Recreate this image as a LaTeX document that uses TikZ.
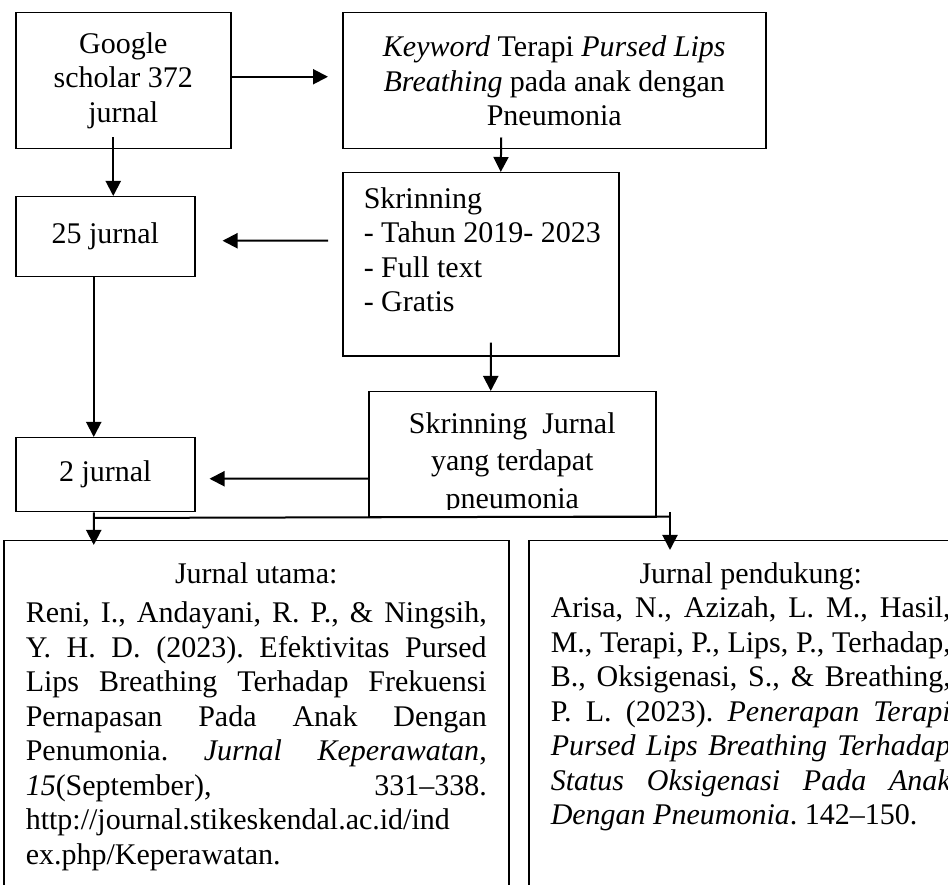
\documentclass[tikz,border=0pt]{standalone}
\usepackage{fontspec}
\setmainfont{Liberation Serif}
\usetikzlibrary{arrows.meta,calc}
\tikzset{box/.style = {draw, semithick, rectangle, inner sep=0pt, anchor=north west, align=center},
         >={Triangle[length=6pt,width=6pt]}}
\begin{document}
\begin{tikzpicture}[x=0.4pt,y=-0.4pt,font=\fontsize{12}{13.8}\selectfont]
        \useasboundingbox (0,0) rectangle (948,885);
        \clip (0,0) rectangle (948,885);

        \node[box, minimum width=86pt, minimum height=54.4pt] (google) at (15,12) {Google\\scholar 372\\jurnal};
        \node[box, minimum width=169.2pt, minimum height=54.4pt] (keyword) at (342,12) {\textit{Keyword} Terapi \textit{Pursed Lips}\\\textit{Breathing} pada anak dengan\\Pneumonia};
        \node[box, inner xsep=8.4pt, inner ysep=5.8pt] (skrin) at (342,172) {\parbox[t][61.6pt][t]{93.6pt}{Skrinning\\\mbox{- Tahun 2019- 2023}\\- Full text\\- Gratis}};
        \node[box, minimum width=71.6pt, minimum height=32pt] (jurnal25) at (15,196) {25 jurnal};
        \node[box, minimum width=114.8pt, minimum height=50pt] (skrinjurnal) at (368,391) {};
        \node[box, minimum width=71.6pt, minimum height=29.6pt] (jurnal2) at (15,437) {2 jurnal};
        \begin{scope}
            \clip (skrinjurnal.north west) rectangle ($(skrinjurnal.south east)+(0,-8)$);
            \node[inner sep=0pt, anchor=north, align=center, font=\fontsize{12}{15}\selectfont] (skrinjurnaltxt) at ($(skrinjurnal.north)+(0,21)$) {Skrinning\ \ Jurnal\\yang terdapat\\pneumonia};
        \end{scope}

        \node[box, inner xsep=8.8pt, inner ysep=8.6pt] (utama) at (3,540) {\parbox[t][150pt][t]{184.4pt}{%
            {\centering Jurnal utama:\par}\vspace{2pt}%
            \hyphenpenalty=10000 \frenchspacing
            Reni, I., Andayani, R. P., \& Ningsih,\linebreak
            Y. H. D. (2023). Efektivitas Pursed\linebreak
            Lips Breathing Terhadap Frekuensi\linebreak
            Pernapasan Pada Anak Dengan\linebreak
            Penumonia. \textit{Jurnal Keperawatan},\linebreak
            \textit{15}(September), 331--338.\linebreak
            http://journal.stikeskendal.ac.id/ind\linebreak
            ex.php/Keperawatan.}};
        \node[box, inner xsep=8.8pt, inner ysep=8.6pt] (pendukung) at (528,540) {\parbox[t][150pt][t]{160pt}{%
            {\centering Jurnal pendukung:\par}%
            \hyphenpenalty=10000 \frenchspacing
            Arisa, N., Azizah, L. M., Hasil,\linebreak
            M., Terapi, P., Lips, P., Terhadap,\linebreak
            B., Oksigenasi, S., \& Breathing,\linebreak
            P. L. (2023). \textit{Penerapan Terapi\linebreak
            Pursed Lips Breathing Terhadap\linebreak
            Status Oksigenasi Pada Anak\linebreak
            Dengan Pneumonia}. 142--150.}};

        \draw[->, thick] ($(google.east)+(0,-4)$) -- ($(keyword.west)+(-14,-4)$);
        \draw[->, thick] ($(google.south)+(-10,-12)$) -- ($(google.south |- jurnal25.north)+(-10,0)$);
        \draw[->, thick] ($(keyword.south)+(-53,-12)$) -- ($(skrin.north)+(20,0)$);
        \draw[->, thick] ($(skrin.west)+(-14,-23.5)$) -- ($(jurnal25.east)+(27,4)$);
        \draw[->, thick] ($(jurnal25.south)+(-11.5,0)$) -- ($(jurnal2.north)+(-11.5,0)$);
        \draw[->, thick] ($(skrin.south)+(10,-14)$) -- ($(skrinjurnal.north)+(-21.5,0)$);
        \draw[->, thick] ($(skrinjurnal.west)+(0,24.5)$) -- ($(jurnal2.east)+(14,4)$);
        \draw[->, thick] ($(jurnal2.south)+(-11.5,0)$) -- ($(utama.north)+(-162.5,5)$);
        \draw[thick] ($(jurnal2.south)+(-11.5,5.5)$) -- ($(pendukung.north west)+(142,-23.5)$);
        \draw[->, thick] ($(pendukung.north west)+(142,-28)$) -- ($(pendukung.north west)+(142,10)$);
    \end{tikzpicture}
\end{document}
